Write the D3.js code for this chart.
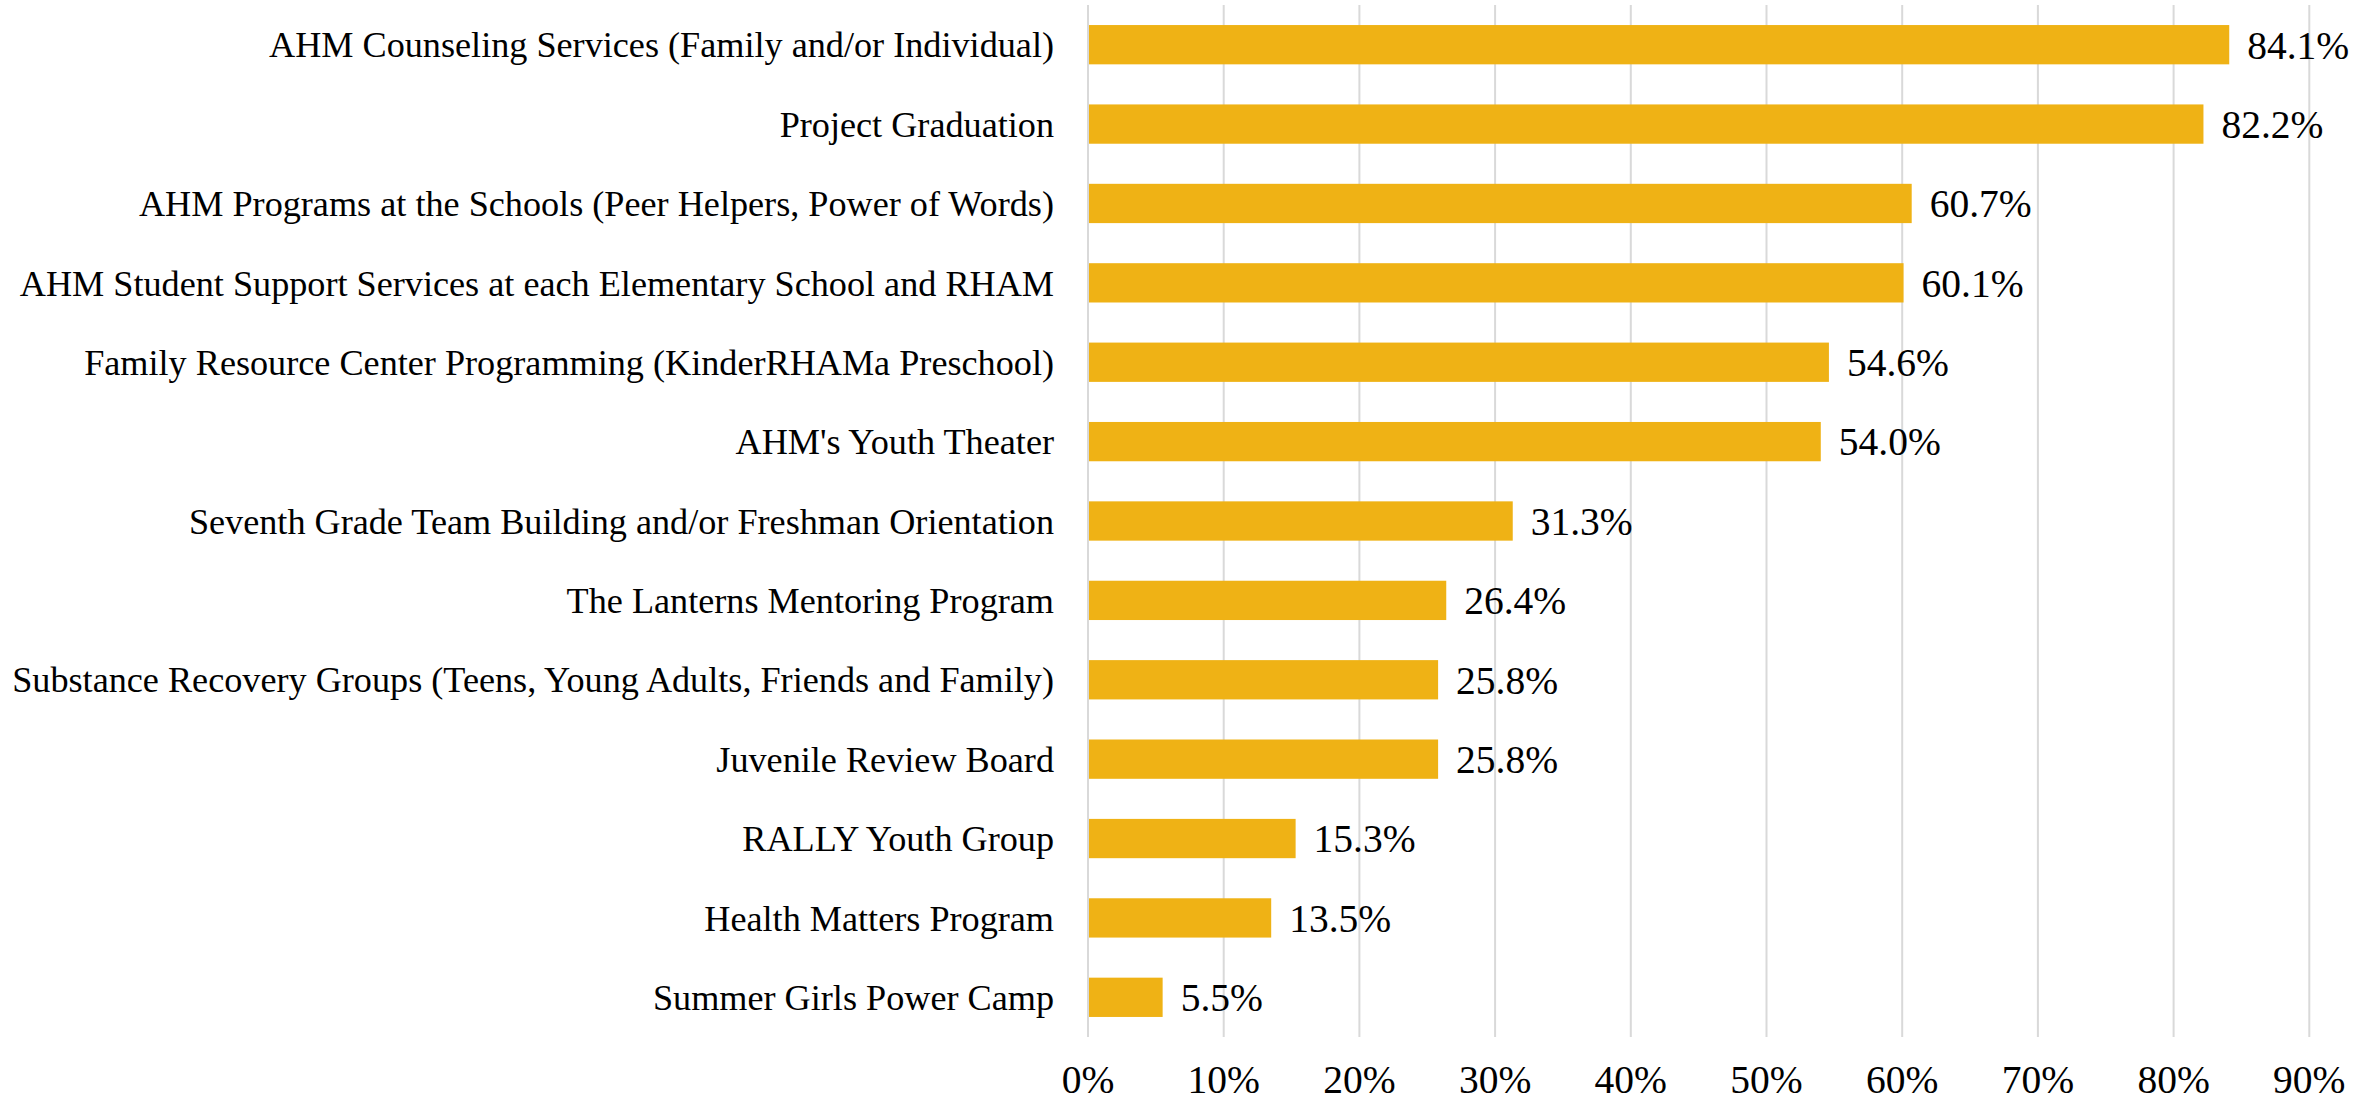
<!DOCTYPE html>
<html>
<head>
<meta charset="utf-8">
<script src="https://cdn.jsdelivr.net/npm/d3@7"></script>
<style>
  html, body { margin: 0; padding: 0; background: #fff; }
  svg text { font-family: "Liberation Serif", "Times New Roman", serif; fill: #000; }
</style>
</head>
<body>
<svg id="chart" width="2379" height="1105"></svg>
<script>
// data
const programs = [
  "AHM Counseling Services (Family and/or Individual)",
  "Project Graduation",
  "AHM Programs at the Schools (Peer Helpers, Power of Words)",
  "AHM Student Support Services at each Elementary School and RHAM",
  "Family Resource Center Programming (KinderRHAMa Preschool)",
  "AHM's Youth Theater",
  "Seventh Grade Team Building and/or Freshman Orientation",
  "The Lanterns Mentoring Program",
  "Substance Recovery Groups (Teens, Young Adults, Friends and Family)",
  "Juvenile Review Board",
  "RALLY Youth Group",
  "Health Matters Program",
  "Summer Girls Power Camp"
];
const shares = [84.1, 82.2, 60.7, 60.1, 54.6, 54.0, 31.3, 26.4, 25.8, 25.8, 15.3, 13.5, 5.5];
const ticks  = [0, 10, 20, 30, 40, 50, 60, 70, 80, 90];

const m = {top: 5, left: 1088, right: 70, bottom: 68};
const W = 2379, H = 1105;
const svg = d3.select("#chart");

const x = d3.scaleLinear().domain([0, 90]).range([m.left, m.left + 9 * 135.7]);
const y = d3.scaleBand().domain(programs).range([m.top, H - m.bottom]).paddingInner(0.505).paddingOuter(0.2525);

// gridlines
svg.append("g").selectAll("line").data(ticks).join("line")
   .attr("x1", d => x(d)).attr("x2", d => x(d))
   .attr("y1", m.top).attr("y2", H - m.bottom)
   .attr("stroke", "#d9d9d9").attr("stroke-width", 2);

// bars
svg.append("g").selectAll("rect").data(shares).join("rect")
   .attr("x", x(0) + 1)
   .attr("y", (d, i) => y(programs[i]))
   .attr("width", d => x(d) - x(0) - 1)
   .attr("height", y.bandwidth())
   .attr("fill", "#EFB215");

// value labels
svg.append("g").selectAll("text").data(shares).join("text")
   .attr("x", d => x(d) + 18)
   .attr("y", (d, i) => y(programs[i]) + y.bandwidth() / 2)
   .attr("dy", "0.35em")
   .attr("font-size", 39.5)
   .text(d => d.toFixed(1) + "%");

// category labels
svg.append("g").selectAll("text").data(programs).join("text")
   .attr("x", m.left - 34)
   .attr("y", d => y(d) + y.bandwidth() / 2)
   .attr("dy", "0.35em")
   .attr("text-anchor", "end")
   .attr("font-size", 36.2)
   .text(d => d);

// x tick labels
svg.append("g").selectAll("text").data(ticks).join("text")
   .attr("x", d => x(d))
   .attr("y", 1093)
   .attr("text-anchor", "middle")
   .attr("font-size", 39.5)
   .text(d => d + "%");
</script>
</body>
</html>
